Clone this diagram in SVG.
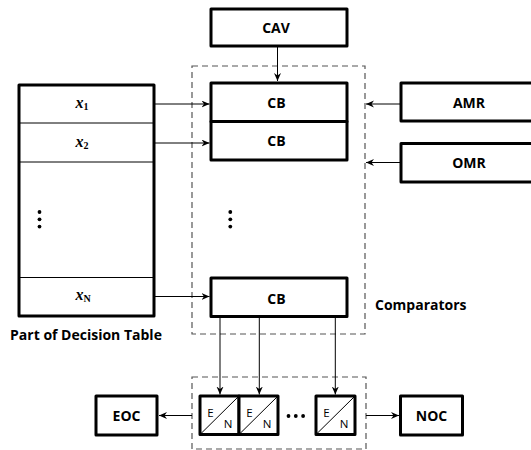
<svg xmlns="http://www.w3.org/2000/svg" width="531" height="450" viewBox="0 0 531 450">
<defs>
<style>
.box{fill:#fff;stroke:#000;stroke-width:3;stroke-linejoin:round}
.thin{fill:none;stroke:#000;stroke-width:1}
.dash{fill:none;stroke:#555;stroke-width:1.2;stroke-dasharray:6,4}
.lbl{font-family:"Open Sans","Noto Sans",sans-serif;font-weight:bold;font-size:14px;fill:#000}
.en{font-family:"Open Sans","Noto Sans",sans-serif;font-size:11.5px;fill:#000}
.var{font-family:"Liberation Serif",serif;font-style:italic;font-weight:bold;font-size:16px;fill:#000}
.sub{font-style:normal;font-size:10px}
.conn{fill:none;stroke:#000;stroke-width:1}
</style>
<marker id="ah" markerUnits="userSpaceOnUse" markerWidth="9" markerHeight="8" refX="8" refY="3.5" orient="auto">
<path d="M0,0 L8,3.5 L0,7 L2.5,3.5 Z" fill="#000"/>
</marker>
</defs>
<rect width="531" height="450" fill="#fff"/>

<g id="comparators-group">
<rect class="dash" x="192" y="66" width="173" height="268"/>
<text class="lbl" x="375" y="310">Comparators</text>
</g>
<g id="outputs-group">
<rect class="dash" x="192" y="377" width="174" height="72"/>
</g>

<g id="CAV">
<rect class="box" x="211" y="9" width="136" height="37"/>
<text class="lbl" x="276" y="32.5" text-anchor="middle">CAV</text>
</g>

<g id="table">
<rect class="box" x="19" y="85" width="135" height="231"/>
<line class="thin" x1="19" y1="123" x2="154" y2="123"/>
<line class="thin" x1="19" y1="162" x2="154" y2="162"/>
<line class="thin" x1="19" y1="277.5" x2="154" y2="277.5"/>
<text class="var" x="82" y="108" text-anchor="middle">x<tspan class="sub" dy="2">1</tspan></text>
<text class="var" x="82" y="147" text-anchor="middle">x<tspan class="sub" dy="2">2</tspan></text>
<text class="var" x="83" y="300" text-anchor="middle">x<tspan class="sub" dy="2">N</tspan></text>
<circle cx="39.5" cy="212" r="1.9"/>
<circle cx="39.5" cy="219.3" r="1.9"/>
<circle cx="39.5" cy="226.6" r="1.9"/>
<text class="lbl" x="86" y="339.5" text-anchor="middle">Part of Decision Table</text>
</g>

<g id="CB1">
<rect class="box" x="211" y="83" width="136" height="38.5"/>
<text class="lbl" x="276.5" y="108" text-anchor="middle">CB</text>
</g>
<g id="CB2">
<rect class="box" x="211" y="121.5" width="136" height="38.5"/>
<text class="lbl" x="276.5" y="146" text-anchor="middle">CB</text>
</g>
<g id="cb-dots">
<circle cx="230.3" cy="212" r="1.9"/>
<circle cx="230.3" cy="219.3" r="1.9"/>
<circle cx="230.3" cy="226.6" r="1.9"/>
</g>
<g id="CB3">
<rect class="box" x="211" y="278" width="136" height="38.5"/>
<text class="lbl" x="276.5" y="303.5" text-anchor="middle">CB</text>
</g>

<g id="AMR">
<rect class="box" x="401" y="83" width="137" height="38"/>
<text class="lbl" x="469" y="108" text-anchor="middle">AMR</text>
</g>
<g id="OMR">
<rect class="box" x="401" y="143.5" width="137" height="38.5"/>
<text class="lbl" x="469" y="168" text-anchor="middle">OMR</text>
</g>

<g id="EN1">
<rect class="box" x="200" y="396" width="39" height="38.5"/>
<line class="thin" x1="200" y1="434.5" x2="239" y2="396"/>
<text class="en" x="210.5" y="417" text-anchor="middle">E</text>
<text class="en" x="228" y="428" text-anchor="middle">N</text>
</g>
<g id="EN2">
<rect class="box" x="239" y="396" width="39" height="38.5"/>
<line class="thin" x1="239" y1="434.5" x2="278" y2="396"/>
<text class="en" x="249.5" y="417" text-anchor="middle">E</text>
<text class="en" x="267" y="428" text-anchor="middle">N</text>
</g>
<g id="en-dots">
<circle cx="288.5" cy="416" r="1.9"/>
<circle cx="295.8" cy="416" r="1.9"/>
<circle cx="303.1" cy="416" r="1.9"/>
</g>
<g id="EN3">
<rect class="box" x="316" y="396" width="39" height="38.5"/>
<line class="thin" x1="316" y1="434.5" x2="355" y2="396"/>
<text class="en" x="326.5" y="417" text-anchor="middle">E</text>
<text class="en" x="344" y="428" text-anchor="middle">N</text>
</g>

<g id="EOC">
<rect class="box" x="96" y="396" width="61" height="39"/>
<text class="lbl" x="126.5" y="421" text-anchor="middle">EOC</text>
</g>
<g id="NOC">
<rect class="box" x="400.5" y="396" width="62" height="39"/>
<text class="lbl" x="431.5" y="421" text-anchor="middle">NOC</text>
</g>

<g id="connectors">
<line class="conn" x1="277.5" y1="46" x2="277.5" y2="81" marker-end="url(#ah)"/>
<line class="conn" x1="154" y1="104" x2="209.5" y2="104" marker-end="url(#ah)"/>
<line class="conn" x1="154" y1="143" x2="209.5" y2="143" marker-end="url(#ah)"/>
<line class="conn" x1="154" y1="296.5" x2="209.5" y2="296.5" marker-end="url(#ah)"/>
<line class="conn" x1="401" y1="104" x2="366" y2="104" marker-end="url(#ah)"/>
<line class="conn" x1="401" y1="162.5" x2="366" y2="162.5" marker-end="url(#ah)" stroke="#555"/>
<line class="conn" x1="220" y1="316.5" x2="220" y2="394.5" marker-end="url(#ah)"/>
<line class="conn" x1="259.3" y1="316.5" x2="259.3" y2="394.5" marker-end="url(#ah)"/>
<line class="conn" x1="335.3" y1="316.5" x2="335.3" y2="394.5" marker-end="url(#ah)"/>
<line class="conn" x1="192" y1="415.5" x2="159" y2="415.5" marker-end="url(#ah)"/>
<line class="conn" x1="366" y1="415.5" x2="399" y2="415.5" marker-end="url(#ah)"/>
</g>
</svg>
